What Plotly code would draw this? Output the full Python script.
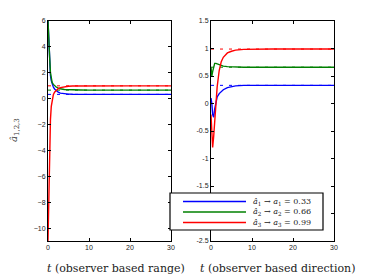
import plotly.graph_objects as go

# ---- data ----
t_left = [0, 0.2, 0.4, 0.6, 0.8, 1.0, 1.3, 1.6, 2.0, 2.5, 3.0, 4.0, 5.0, 6.0, 8.0, 10, 15, 20, 30]
blue_left = [6.0, 4.0, 2.6, 1.8, 1.4, 1.1, 0.9, 0.75, 0.6, 0.5, 0.43, 0.37, 0.35, 0.34, 0.33, 0.33, 0.33, 0.33, 0.33]
green_left = [6.0, 5.0, 3.2, 2.0, 1.5, 1.25, 1.1, 1.0, 0.9, 0.82, 0.76, 0.71, 0.69, 0.68, 0.67, 0.66, 0.66, 0.66, 0.66]
red_left = [-11.0, -6.5, -3.5, -1.6, -0.6, -0.1, 0.3, 0.5, 0.66, 0.78, 0.85, 0.93, 0.96, 0.975, 0.985, 0.99, 0.99, 0.99, 0.99]

t_right = [0, 0.2, 0.4, 0.65, 0.9, 1.2, 1.5, 2.0, 2.5, 3.0, 4.0, 5.0, 6.0, 8.0, 10, 15, 20, 30]
blue_right = [0.1, 0.0, -0.2, -0.25, -0.1, 0.05, 0.12, 0.18, 0.22, 0.25, 0.29, 0.31, 0.32, 0.33, 0.33, 0.33, 0.33, 0.33]
green_right = [0.66, 0.5, 0.58, 0.68, 0.73, 0.73, 0.72, 0.70, 0.69, 0.68, 0.67, 0.665, 0.662, 0.66, 0.66, 0.66, 0.66, 0.66]
red_right = [-0.2, -0.6, -0.8, -0.6, -0.3, 0.05, 0.3, 0.6, 0.76, 0.84, 0.92, 0.95, 0.97, 0.985, 0.99, 0.99, 0.99, 0.99]

targets = [0.33, 0.66, 0.99]
colors = ["#0000ff", "#008000", "#ff0000"]
legend_labels = [
    "<i>â</i><sub>1</sub> → <i>a</i><sub>1</sub> = 0.33",
    "<i>â</i><sub>2</sub> → <i>a</i><sub>2</sub> = 0.66",
    "<i>â</i><sub>3</sub> → <i>a</i><sub>3</sub> = 0.99",
]
x_ticks = [0, 10, 20, 30]
y_ticks_left = [-10, -8, -6, -4, -2, 0, 2, 4, 6]
y_ticks_right = [-2.5, -2, -1.5, -1, -0.5, 0, 0.5, 1, 1.5]

# page body has an 8px default margin; compensate so the picture lands at the window origin
OFF = 8
W, H = 367 - OFF, 276 - OFF
L, R, T, B = 48 - OFF, 334 - OFF, 21 - OFF, 241 - OFF
PW, PH = R - L, B - T


def px(x):
    return (x - OFF - L) / PW


def py(y):
    return (B - (y - OFF)) / PH


fig = go.Figure()

# dashed target lines
for axn in ["", "2"]:
    for v, c in zip(targets, colors):
        fig.add_trace(go.Scatter(x=[0, 30], y=[v, v], mode="lines",
                                 line=dict(color=c, width=1, dash="3px,6px"),
                                 xaxis="x" + axn, yaxis="y" + axn, showlegend=False))

for ys, c in zip([blue_left, green_left, red_left], colors):
    fig.add_trace(go.Scatter(x=t_left, y=ys, mode="lines", line=dict(color=c, width=1.4),
                             xaxis="x", yaxis="y", showlegend=False))
for ys, c in zip([blue_right, green_right, red_right], colors):
    fig.add_trace(go.Scatter(x=t_right, y=ys, mode="lines", line=dict(color=c, width=1.4),
                             xaxis="x2", yaxis="y2", showlegend=False))

tickfont = dict(family="Liberation Sans, Arial", size=7, color="#222")
common = dict(showgrid=False, zeroline=False, showline=True, linecolor="black", linewidth=1,
              mirror="ticks", ticks="inside", ticklen=3, tickcolor="black", tickfont=tickfont,
              automargin=False)

fig.update_layout(
    width=W, height=H, margin=dict(l=L, r=W - R, t=T, b=H - B, autoexpand=False),
    paper_bgcolor="white", plot_bgcolor="white",
    xaxis=dict(domain=[0, px(171)], range=[0, 30], tickvals=x_ticks, anchor="y", **common),
    yaxis=dict(domain=[0, 1], range=[-11, 6], tickvals=y_ticks_left, anchor="x", **common),
    xaxis2=dict(domain=[px(211), 1], range=[0, 30], tickvals=x_ticks, anchor="y2", **common),
    yaxis2=dict(domain=[0, 1], range=[-2.5, 1.5], tickvals=y_ticks_right,
                ticktext=[str(v) for v in y_ticks_right], anchor="x2", **common),
)

serif = dict(family="DejaVu Serif", size=11, color="#222")
fig.add_annotation(text="<i>t</i> (observer based range)", x=px(116), y=py(268),
                   xref="paper", yref="paper", xanchor="center", yanchor="middle",
                   showarrow=False, font=serif)
fig.add_annotation(text="<i>t</i> (observer based direction)", x=px(277), y=py(268),
                   xref="paper", yref="paper", xanchor="center", yanchor="middle",
                   showarrow=False, font=serif)
fig.add_annotation(text="<i>â</i><sub>1,2,3</sub>", x=px(14), y=py(130),
                   xref="paper", yref="paper", xanchor="center", yanchor="middle",
                   showarrow=False, textangle=-90,
                   font=dict(family="DejaVu Serif", size=10, color="#333"))

# manual legend box
fig.add_shape(type="rect", xref="paper", yref="paper",
              x0=px(170), x1=px(323), y0=py(230), y1=py(193),
              fillcolor="white", line=dict(color="black", width=1.2))
for i, (lab, c) in enumerate(zip(legend_labels, colors)):
    yy = py(201.5 + i * 10.5)
    fig.add_shape(type="line", xref="paper", yref="paper", x0=px(183), x1=px(246), y0=yy, y1=yy,
                  line=dict(color=c, width=1.4))
    fig.add_annotation(text=lab, x=px(251), y=yy, xref="paper", yref="paper", xanchor="left",
                       yanchor="middle", showarrow=False,
                       font=dict(family="DejaVu Serif", size=8, color="#222"))

fig.write_html("out.html")
